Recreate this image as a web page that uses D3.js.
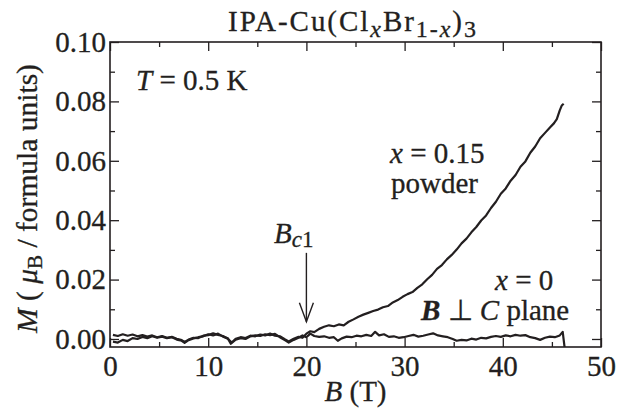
<!DOCTYPE html>
<html><head><meta charset="utf-8">
<script src="https://cdn.jsdelivr.net/npm/d3@7"></script>
<style>
body{margin:0;background:#fff}
svg{display:block}
text{font-family:"Liberation Serif","Times New Roman",Times,serif;fill:#231f20;stroke:#231f20;stroke-width:0.3px}
</style>
</head><body>
<svg id="chart" width="627" height="412"></svg>
<script>
// ---- data ----
const xMajorTicks = [0, 10, 20, 30, 40, 50];
const xMinorTicks = [5, 15, 25, 35, 45];
const yMajorTicks = [0, 0.02, 0.04, 0.06, 0.08, 0.10];
const yMinorTicks = [0.01, 0.03, 0.05, 0.07, 0.09];
const xDomain = [0, 50];
const yDomain = [-0.0027, 0.10];
const bc1 = 20;

// x = 0, B perpendicular to C plane : [B (T), M (muB / f.u.)]
const singleCrystal = [
 [0.3,-0.0009],[0.8,-0.0012],[1.3,-0.0003],[1.8,-0.0007],[2.3,0.0003],[2.8,0.0000],[3.3,0.0007],[3.8,0.0003],
 [4.3,0.0009],[4.8,0.0004],[5.3,0.0008],[5.8,0.0003],[6.3,0.0006],[6.8,-0.0002],[7.3,-0.0006],[7.6,-0.0013],
 [8.0,-0.0004],[8.5,0.0002],[9.0,0.0006],[9.5,0.0009],[10.0,0.0016],[10.5,0.0012],[11.0,0.0018],[11.5,0.0008],
 [12.0,0.0002],[12.3,-0.0016],[12.8,-0.0002],[13.3,0.0003],[13.8,0.0000],[14.3,0.0009],[14.8,0.0012],[15.3,0.0010],
 [15.8,0.0016],[16.3,0.0013],[16.8,0.0017],[17.3,0.0006],[17.8,-0.0004],[18.2,-0.0012],[18.7,-0.0003],[19.2,0.0004],
 [19.6,0.0012],[20.0,0.0006],[20.4,0.0018],[20.8,0.0010],[21.3,0.0007],[21.8,0.0009],[22.3,0.0004],[22.8,0.0006],
 [23.2,-0.0006],[23.6,0.0002],[24.1,0.0008],[24.6,0.0006],[25.1,0.0011],[25.6,0.0009],[26.1,0.0014],[26.6,0.0010],
 [27.0,0.0024],[27.4,0.0012],[27.9,0.0016],[28.4,0.0007],[28.9,0.0009],[29.4,0.0004],[29.9,0.0006],[30.4,0.0010],
 [30.9,0.0014],[31.4,0.0008],[31.9,0.0011],[32.4,0.0015],[32.9,0.0019],[33.4,0.0012],[33.9,0.0009],[34.4,0.0006],
 [34.9,0.0000],[35.3,-0.0006],[35.8,-0.0003],[36.3,-0.0005],[36.8,0.0001],[37.3,-0.0002],[37.8,0.0004],[38.3,0.0002],
 [38.8,0.0007],[39.3,0.0010],[39.8,0.0007],[40.3,0.0012],[40.8,0.0009],[41.3,0.0014],[41.8,0.0011],[42.3,0.0013],
 [42.8,0.0006],[43.3,0.0003],[43.8,-0.0003],[44.3,0.0004],[44.8,0.0008],[45.3,0.0006],[45.8,0.0012],[46.1,0.0024],
 [46.3,-0.0030]
];

// x = 0.15 powder
const powder = [
 [0.3,0.0014],[0.8,0.0010],[1.3,0.0016],[1.8,0.0011],[2.3,0.0015],[2.8,0.0009],[3.3,0.0013],[3.8,0.0008],
 [4.3,0.0012],[4.8,0.0006],[5.3,0.0010],[5.8,0.0004],[6.3,0.0007],[6.8,0.0001],[7.3,-0.0004],[7.6,-0.0010],
 [8.0,-0.0002],[8.5,0.0004],[9.0,0.0003],[9.5,0.0011],[10.0,0.0013],[10.5,0.0019],[11.0,0.0014],[11.5,0.0010],
 [12.0,0.0001],[12.4,-0.0012],[12.8,0.0001],[13.3,0.0006],[13.8,0.0003],[14.3,0.0011],[14.8,0.0009],[15.3,0.0015],
 [15.8,0.0012],[16.3,0.0018],[16.8,0.0011],[17.3,0.0009],[17.8,-0.0001],[18.2,-0.0008],[18.7,0.0001],[19.2,0.0007],
 [19.6,0.0004],[20.0,0.0018],[20.4,0.0026],[20.8,0.0023],[21.3,0.0034],[21.8,0.0041],[22.3,0.0046],[22.8,0.0043],
 [23.3,0.0049],[23.8,0.0046],[24.3,0.0058],[24.8,0.0066],[25.3,0.0075],[25.8,0.0082],[26.3,0.0088],[26.8,0.0094],
 [27.3,0.0099],[27.8,0.0107],[28.3,0.0111],[28.8,0.0123],[29.3,0.0131],[29.8,0.0142],[30.3,0.0151],[30.8,0.0158],
 [31.3,0.0172],[31.8,0.0184],[32.3,0.0201],[32.8,0.0216],[33.3,0.0236],[33.8,0.0249],[34.3,0.0268],[34.8,0.0283],
 [35.3,0.0301],[35.8,0.0322],[36.3,0.0338],[36.8,0.0359],[37.3,0.0377],[37.8,0.0399],[38.3,0.0416],[38.8,0.0441],
 [39.3,0.0462],[39.8,0.0489],[40.3,0.0507],[40.8,0.0533],[41.3,0.0552],[41.8,0.0580],[42.3,0.0598],[42.8,0.0627],
 [43.3,0.0648],[43.8,0.0676],[44.3,0.0694],[44.8,0.0712],[45.2,0.0726],[45.5,0.0740],[45.8,0.0770],[46.0,0.0786],
 [46.2,0.0792]
];

// ---- layout ----
const svg = d3.select("#chart");
const m = {left:110, right:601, top:42, bottom:347};
const x = d3.scaleLinear().domain(xDomain).range([m.left, m.right]);
const y = d3.scaleLinear().domain(yDomain).range([m.bottom, m.top]);
const ink = "#231f20";
const FS = 29;

svg.append("defs").append("clipPath").attr("id","clip")
  .append("rect").attr("x",m.left).attr("y",m.top)
  .attr("width",m.right-m.left).attr("height",m.bottom-m.top);

function styleAxis(g, hideText){
  g.attr("font-family", null).attr("font-size", null);
  g.select(".domain").remove();
  g.selectAll("line").attr("stroke", ink).attr("stroke-width", 1.3);
  if (hideText) g.selectAll("text").remove();
  else g.selectAll("text").attr("font-size", FS).attr("fill", ink);
}

// bottom
svg.append("g").attr("transform",`translate(0,${m.bottom})`)
  .call(d3.axisBottom(x).tickValues(xMajorTicks).tickSize(-9).tickPadding(8).tickFormat(d3.format("d")))
  .call(g=>styleAxis(g,false));
svg.append("g").attr("transform",`translate(0,${m.bottom})`)
  .call(d3.axisBottom(x).tickValues(xMinorTicks).tickSize(-5).tickFormat(""))
  .call(g=>styleAxis(g,true));
// top
svg.append("g").attr("transform",`translate(0,${m.top})`)
  .call(d3.axisTop(x).tickValues(xMajorTicks).tickSize(-9).tickFormat(""))
  .call(g=>styleAxis(g,true));
svg.append("g").attr("transform",`translate(0,${m.top})`)
  .call(d3.axisTop(x).tickValues(xMinorTicks).tickSize(-5).tickFormat(""))
  .call(g=>styleAxis(g,true));
// left
svg.append("g").attr("transform",`translate(${m.left},0)`)
  .call(d3.axisLeft(y).tickValues(yMajorTicks).tickSize(-9).tickPadding(4).tickFormat(d3.format(".2f")))
  .call(g=>styleAxis(g,false));
svg.append("g").attr("transform",`translate(${m.left},0)`)
  .call(d3.axisLeft(y).tickValues(yMinorTicks).tickSize(-5).tickFormat(""))
  .call(g=>styleAxis(g,true));
// right
svg.append("g").attr("transform",`translate(${m.right},0)`)
  .call(d3.axisRight(y).tickValues(yMajorTicks).tickSize(-9).tickFormat(""))
  .call(g=>styleAxis(g,true));
svg.append("g").attr("transform",`translate(${m.right},0)`)
  .call(d3.axisRight(y).tickValues(yMinorTicks).tickSize(-5).tickFormat(""))
  .call(g=>styleAxis(g,true));

// frame
svg.append("rect").attr("x",m.left).attr("y",m.top)
  .attr("width",m.right-m.left).attr("height",m.bottom-m.top)
  .attr("fill","none").attr("stroke",ink).attr("stroke-width",1.6);

// curves
const line = d3.line().x(d=>x(d[0])).y(d=>y(d[1]));
const plot = svg.append("g").attr("clip-path","url(#clip)");
[singleCrystal, powder].forEach(s=>{
  plot.append("path").datum(s).attr("d",line)
    .attr("fill","none").attr("stroke",ink).attr("stroke-width",2.2)
    .attr("stroke-linejoin","round");
});

// Bc1 arrow
const ax = x(bc1), aTop = y(0.0290), aTip = y(0.0058);
svg.append("line").attr("x1",ax).attr("x2",ax).attr("y1",aTop).attr("y2",aTip)
  .attr("stroke",ink).attr("stroke-width",1.4);
svg.append("path").attr("d",`M${ax-7},${aTip-19}L${ax},${aTip}L${ax+7},${aTip-19}`)
  .attr("fill","none").attr("stroke",ink).attr("stroke-width",1.4);

// ---- texts ----
function txt(xp, yp, size){
  return svg.append("text").attr("x",xp).attr("y",yp).attr("font-size",size);
}
// title
{
  const t = txt(228, 31, 29).attr("textLength",248).attr("lengthAdjust","spacing");
  t.append("tspan").text("IPA-Cu(Cl");
  t.append("tspan").attr("font-style","italic").attr("font-size",24).attr("dy",6).text("x");
  t.append("tspan").attr("dy",-6).text("Br");
  t.append("tspan").attr("font-size",24).attr("dy",6).text("1-");
  t.append("tspan").attr("font-size",24).attr("font-style","italic").text("x");
  t.append("tspan").attr("dy",-6).text(")");
  t.append("tspan").attr("font-size",24).attr("dy",6).text("3");
}
// T = 0.5 K
{
  const t = txt(136, 90, FS);
  t.append("tspan").attr("font-style","italic").text("T");
  t.append("tspan").text(" = 0.5 K");
}
// x = 0.15 powder
{
  const t = txt(390, 163, FS);
  t.append("tspan").attr("font-style","italic").text("x");
  t.append("tspan").text(" = 0.15");
  txt(391, 193, FS).text("powder");
}
// Bc1
{
  const t = txt(274, 243, FS);
  t.append("tspan").attr("font-style","italic").text("B");
  t.append("tspan").attr("font-style","italic").attr("font-size",23).attr("dy",4).text("c");
  t.append("tspan").attr("font-size",23).text("1");
}
// x = 0, B ⊥ C plane
{
  const t = txt(495, 290, FS);
  t.append("tspan").attr("font-style","italic").text("x");
  t.append("tspan").text(" = 0");
  const u = txt(421, 320, FS);
  u.append("tspan").attr("font-style","italic").attr("font-weight","bold").text("B");
  u.append("tspan").text(" \u22A5 ");
  u.append("tspan").attr("font-style","italic").text("C");
  u.append("tspan").text(" plane");
}
// x-axis label
{
  const t = svg.append("text").attr("x",(m.left+m.right)/2).attr("y",401)
    .attr("text-anchor","middle").attr("font-size",FS);
  t.append("tspan").attr("font-style","italic").text("B");
  t.append("tspan").text(" (T)");
}
// y-axis label
{
  const t = svg.append("text").attr("transform",`translate(37,${(m.top+m.bottom)/2+4}) rotate(-90)`)
    .attr("text-anchor","middle").attr("font-size",29.5);
  t.append("tspan").attr("font-style","italic").text("M");
  t.append("tspan").text(" ( ");
  t.append("tspan").attr("font-style","italic").text("\u03BC");
  t.append("tspan").attr("font-size",21).attr("dy",5).text("B");
  t.append("tspan").attr("dy",-5).text(" / formula units)");
}
</script>
</body></html>
